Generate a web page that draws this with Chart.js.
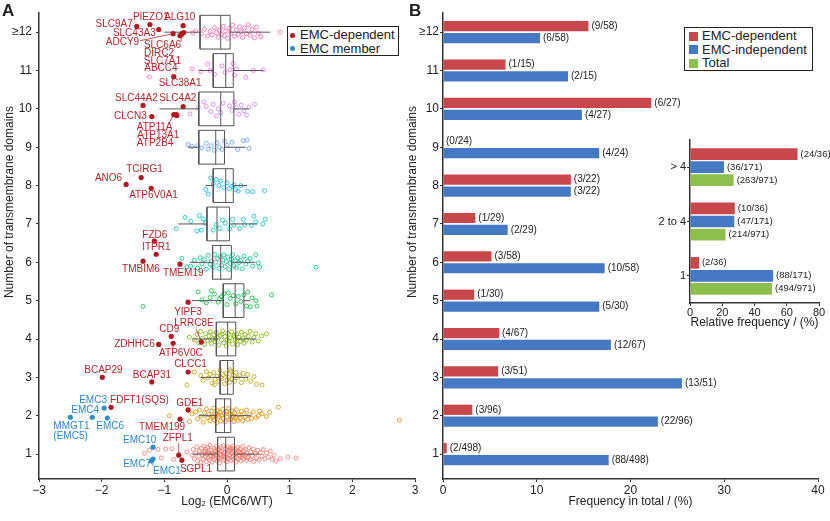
<!DOCTYPE html>
<html>
<head>
<meta charset="utf-8">
<script src="https://cdn.jsdelivr.net/npm/chart.js@4.4.0/dist/chart.umd.min.js"></script>
<style>
	body { margin: 0; background: #fff; font-family: "Liberation Sans", Arial, sans-serif; color: #222; }
	#wrap { position: relative; width: 830px; height: 521px; overflow: hidden; }
	canvas { position: absolute; }
	.panel { position: absolute; font-weight: bold; font-size: 17px; line-height: 17px; }
	.ytitle { position: absolute; width: 260px; height: 14px; line-height: 14px; font-size: 12px; text-align: center; white-space: nowrap; transform: rotate(-90deg); }
	.legend { position: absolute; border: 1.5px solid #222; box-sizing: border-box; background: #fff; font-size: 13px; }
	.legend .li { height: 13.5px; line-height: 13.5px; white-space: nowrap; }
	.legend .dot { display: inline-block; width: 5px; height: 5px; border-radius: 50%; margin: 0 5px 1px 2px; vertical-align: middle; }
	.legend .sq { display: inline-block; width: 9px; height: 9px; margin: 0 4px 1px 4px; vertical-align: middle; }
</style>
</head>
<body>
<div id="wrap">
	<canvas id="chartA" width="420" height="521" style="left:0;top:0"></canvas>
	<canvas id="chartB" width="426" height="521" style="left:404px;top:0"></canvas>
	<canvas id="inset" width="180" height="205" style="left:650px;top:130px"></canvas>

	<div class="panel" style="left:2px;top:2px">A</div>
	<div class="panel" style="left:409px;top:2px">B</div>
	<div class="ytitle" style="left:-121px;top:195px">Number of transmembrane domains</div>
	<div class="ytitle" style="left:282px;top:195px">Number of transmembrane domains</div>

	<div class="legend" style="left:287px;top:26px;width:112px;height:30px;padding-top:1px">
		<div class="li"><span class="dot" style="background:#b3171f"></span>EMC-dependent</div>
		<div class="li"><span class="dot" style="background:#2f8fca"></span>EMC member</div>
	</div>
	<div class="legend" style="left:684px;top:27px;width:129px;height:44px;padding-top:1px">
		<div class="li"><span class="sq" style="background:#c8474a"></span>EMC-dependent</div>
		<div class="li"><span class="sq" style="background:#4679c3"></span>EMC-independent</div>
		<div class="li"><span class="sq" style="background:#8cbf4c"></span>Total</div>
	</div>
</div>
<script>
	// ---- data ----
	var tmCats = [1, 2, 3, 4, 5, 6, 7, 8, 9, 10, 11, 12];
	var tmLabels = ['1', '2', '3', '4', '5', '6', '7', '8', '9', '10', '11', '\u226512'];
	var logTicks = [-3, -2, -1, 0, 1, 2, 3];
	var logTickLabels = ['\u22123', '\u22122', '\u22121', '0', '1', '2', '3'];

	// box plot stats per TM class (log2 EMC6/WT)
	var whiskLo = [-0.55, -0.45, -0.42, -0.55, -0.56, -0.59, -0.78, -0.34, -0.62, -1.08, -0.45, -1.0];
	var boxQ1   = [-0.15, -0.18, -0.11, -0.17, -0.06, -0.23, -0.32, -0.22, -0.45, -0.45, -0.22, -0.43];
	var boxMed  = [-0.02, -0.04, 0.01, 0.01, 0.13, -0.10, -0.16, -0.02, -0.18, -0.10, -0.02, -0.10];
	var boxQ3   = [0.12, 0.06, 0.10, 0.14, 0.27, 0.07, 0.04, 0.10, -0.04, 0.11, 0.10, 0.05];
	var whiskHi = [0.52, 0.38, 0.34, 0.46, 0.37, 0.45, 0.48, 0.32, 0.30, 0.35, 0.58, 0.69];

	// jittered proteins, [log2 ratio, jittered TM position]
	var tm1 = [[-1.32,1.02],[-1.24,1.1],[-1.1,1.12],[-0.98,1.13],[-0.88,1.14],[-1.05,0.9],[-0.85,0.86],[-0.64,1.06],
		[-0.56,0.97],[-0.54,1.12],[-0.52,0.88],[-0.5,1.03],[-0.48,1.19],[-0.47,0.82],[-0.45,0.95],[-0.44,1.08],
		[-0.42,0.78],[-0.41,1.15],[-0.4,0.99],[-0.38,0.87],[-0.37,1.21],[-0.36,1.04],[-0.35,0.92],[-0.34,1.12],
		[-0.33,0.8],[-0.32,1.0],[-0.31,1.17],[-0.3,0.9],[-0.29,1.06],[-0.28,0.84],[-0.27,1.23],[-0.26,0.96],
		[-0.25,1.1],[-0.24,0.79],[-0.23,1.02],[-0.22,0.93],[-0.21,1.15],[-0.2,0.86],[-0.19,1.08],[-0.18,0.98],
		[-0.17,1.2],[-0.16,0.82],[-0.15,1.04],[-0.14,0.91],[-0.13,1.13],[-0.12,0.77],[-0.11,1.0],[-0.1,1.18],
		[-0.09,0.89],[-0.08,1.07],[-0.07,0.95],[-0.06,1.22],[-0.05,0.84],[-0.04,1.03],[-0.03,0.92],[-0.02,1.14],
		[-0.01,0.8],[0.0,1.01],[0.01,1.19],[0.02,0.88],[0.03,1.06],[0.04,0.97],[0.05,1.16],[0.06,0.83],
		[0.07,1.04],[0.08,0.93],[0.09,1.21],[0.1,0.86],[0.11,1.09],[0.12,0.98],[0.13,1.13],[0.14,0.79],
		[0.15,1.02],[0.16,0.91],[0.17,1.18],[0.18,0.87],[0.19,1.07],[0.2,0.96],[0.21,1.14],[0.22,0.82],
		[0.23,1.03],[0.24,0.92],[0.25,1.2],[0.26,0.88],[0.27,1.08],[0.28,0.97],[0.3,1.12],[0.31,0.84],
		[0.32,1.01],[0.34,0.93],[0.35,1.17],[0.37,0.86],[0.38,1.05],[0.4,0.95],[0.42,1.13],[0.43,0.81],
		[0.45,1.02],[0.47,0.9],[0.49,1.1],[0.51,0.85],[0.53,1.04],[0.56,0.94],[0.58,1.12],[0.6,0.88],
		[0.63,1.03],[0.66,0.92],[0.69,1.08],[0.72,0.86],[0.75,0.97],[0.78,0.82],[0.85,0.88],[0.97,0.92],[1.1,0.9],
		[-0.2,1.0],[-0.1,0.97],[0.05,1.09],[0.0,0.9],[-0.15,1.12],[0.1,0.95],[-0.05,1.05],[0.15,1.0],
		[-0.25,0.95],[0.2,1.05],[-0.3,1.02],[0.25,0.98],[-0.12,0.9],[0.08,1.15],[-0.35,1.08],[0.33,0.9]];
	var tm2 = [[-0.92,2.0],[-0.6,1.85],[-0.56,2.05],[-0.5,2.1],[-0.47,1.92],[-0.44,2.15],[-0.41,1.98],[-0.38,1.83],
		[-0.36,2.08],[-0.33,2.18],[-0.31,1.95],[-0.29,2.03],[-0.27,1.87],[-0.25,2.12],[-0.23,1.99],[-0.21,2.2],
		[-0.2,1.9],[-0.18,2.05],[-0.16,1.82],[-0.15,2.14],[-0.13,1.97],[-0.12,2.09],[-0.1,1.86],[-0.09,2.01],
		[-0.07,2.17],[-0.06,1.93],[-0.04,2.06],[-0.03,1.84],[-0.01,2.11],[0.0,1.96],[0.02,2.19],[0.03,1.89],
		[0.05,2.04],[0.06,1.92],[0.08,2.13],[0.09,2.0],[0.11,1.85],[0.12,2.08],[0.14,1.95],[0.15,2.16],
		[0.17,1.88],[0.19,2.02],[0.21,1.94],[0.23,2.12],[0.25,1.87],[0.27,2.05],[0.29,1.97],[0.31,2.15],
		[0.33,1.9],[0.36,2.03],[0.39,1.93],[0.42,2.1],[0.46,1.95],[0.5,2.0],[0.52,2.12],[0.56,2.05],
		[0.63,1.98],[0.68,2.09],[0.82,2.22],[2.75,1.88],[-0.14,2.02],[0.0,2.1],[-0.22,1.96],[0.1,1.97]];
	var tm3 = [[-0.64,2.8],[-0.52,3.14],[-0.42,3.05],[-0.38,2.92],[-0.33,3.15],[-0.3,2.98],[-0.27,3.08],[-0.24,2.85],
		[-0.21,3.12],[-0.19,2.95],[-0.16,3.03],[-0.13,2.88],[-0.11,3.18],[-0.08,2.97],[-0.06,3.07],[-0.04,2.83],
		[-0.02,3.1],[0.0,2.93],[0.02,3.01],[0.04,2.87],[0.06,3.16],[0.08,2.96],[0.1,3.06],[0.12,2.9],
		[0.14,3.13],[0.17,2.99],[0.2,3.04],[0.23,2.86],[0.26,3.1],[0.3,2.95],[0.33,3.08],[0.38,2.9],
		[0.43,3.02],[0.47,2.82],[0.56,2.8],[-0.1,3.0],[0.05,3.2],[-0.2,2.81]];
	var tm4 = [[-0.6,4.05],[-0.52,3.98],[-0.48,4.12],[-0.45,3.9],[-0.42,4.2],[-0.39,4.02],[-0.36,3.86],[-0.34,4.14],
		[-0.31,3.96],[-0.29,4.08],[-0.27,4.19],[-0.25,3.88],[-0.23,4.0],[-0.21,4.11],[-0.19,3.93],[-0.17,4.17],
		[-0.15,4.04],[-0.13,3.84],[-0.11,4.09],[-0.09,3.97],[-0.07,4.21],[-0.05,3.9],[-0.03,4.06],[-0.01,3.82],
		[0.01,4.15],[0.03,3.95],[0.05,4.03],[0.07,4.19],[0.09,3.87],[0.11,4.1],[0.13,3.99],[0.15,4.13],
		[0.17,3.85],[0.19,4.05],[0.21,3.94],[0.23,4.18],[0.25,4.01],[0.27,3.89],[0.29,4.12],[0.31,3.97],
		[0.34,4.07],[0.37,4.2],[0.4,3.92],[0.43,4.04],[0.46,4.14],[0.5,3.95],[0.55,4.08],[0.63,4.13],
		[-0.18,4.0],[0.0,3.98],[0.12,4.06],[-0.08,4.13]];
	var tm5 = [[-1.34,4.85],[-0.46,5.23],[-0.4,5.02],[-0.33,4.94],[-0.27,5.08],[-0.25,5.26],[-0.2,5.17],[-0.14,4.96],
		[-0.09,5.1],[-0.05,5.18],[0.0,4.9],[0.02,5.2],[0.05,5.06],[0.1,5.13],[0.14,4.92],[0.18,5.11],
		[0.22,4.98],[0.27,5.15],[0.31,4.86],[0.33,5.22],[0.37,4.84],[0.4,5.07],[0.46,5.0],[0.48,4.86],
		[0.71,5.15],[-0.12,5.05]];
	var tm6 = [[-0.72,6.1],[-0.64,5.88],[-0.58,5.9],[-0.52,6.05],[-0.47,5.85],[-0.43,6.12],[-0.4,5.96],[-0.36,6.07],
		[-0.33,5.82],[-0.3,6.18],[-0.27,5.95],[-0.25,6.04],[-0.22,5.87],[-0.2,6.2],[-0.18,6.0],[-0.15,6.1],
		[-0.13,5.84],[-0.11,6.15],[-0.09,5.93],[-0.07,6.06],[-0.05,6.19],[-0.03,5.89],[-0.01,6.02],[0.01,6.14],
		[0.03,5.81],[0.05,5.97],[0.07,6.08],[0.09,6.2],[0.11,5.91],[0.13,6.04],[0.15,5.86],[0.17,6.12],
		[0.19,5.99],[0.22,6.05],[0.24,5.83],[0.27,6.16],[0.3,5.95],[0.33,6.03],[0.37,6.1],[0.41,5.9],
		[0.46,6.2],[0.5,5.98],[0.52,5.88],[1.42,5.87]];
	var tm7 = [[-0.81,6.88],[-0.67,7.17],[-0.58,7.07],[-0.44,7.22],[-0.38,7.13],[-0.35,7.02],[-0.48,6.82],[-0.41,6.84],
		[-0.22,6.84],[-0.17,6.98],[-0.12,6.88],[-0.07,7.1],[-0.03,7.02],[0.09,7.12],[0.11,6.97],[0.26,7.12],
		[0.28,6.98],[0.39,6.96],[0.43,7.2],[0.46,7.05],[0.57,7.0],[0.61,7.12],[0.2,6.88],[0.04,6.87]];
	var tm8 = [[-0.34,7.9],[-0.3,7.78],[-0.26,8.2],[-0.22,8.05],[-0.17,8.16],[-0.13,8.0],[-0.1,8.12],[-0.05,7.95],
		[0.0,8.07],[0.04,7.92],[0.08,7.98],[0.11,8.02],[0.14,7.9],[0.18,7.86],[0.22,8.0],[0.33,7.85],
		[0.41,7.84],[0.6,7.87]];
	var tm9 = [[-0.62,9.07],[-0.56,9.02],[-0.47,9.04],[-0.4,8.98],[-0.33,9.1],[-0.3,8.95],[-0.25,9.04],[-0.2,8.92],
		[-0.16,9.12],[-0.12,9.0],[-0.08,8.94],[-0.04,9.16],[0.0,9.05],[0.08,9.13],[0.17,8.94],[0.26,9.17],
		[0.32,9.19],[0.35,8.97]];
	var tm10 = [[-0.59,9.87],[-0.46,10.04],[-0.37,10.18],[-0.33,10.06],[-0.26,9.93],[-0.22,10.12],[-0.17,9.82],[-0.14,10.0],
		[-0.1,9.9],[-0.06,10.15],[0.04,10.08],[0.08,9.96],[0.12,10.18],[0.15,10.03],[0.19,9.86],[0.23,10.1],
		[0.27,9.95],[0.31,9.84],[0.35,10.05],[0.44,10.12]];
	var tm11 = [[-1.24,10.83],[-0.56,11.05],[-0.42,10.97],[-0.31,11.17],[-0.27,11.0],[-0.2,10.9],[-0.08,11.12],[-0.03,10.95],
		[0.05,11.02],[0.1,11.18],[0.12,10.88],[0.15,11.04],[0.3,10.82],[0.42,11.0],[0.58,11.02]];
	var tm12 = [[-0.55,11.98],[-0.5,12.03],[-0.41,11.96],[-0.36,12.08],[-0.31,11.9],[-0.27,12.02],[-0.24,11.93],[-0.2,12.12],
		[-0.17,11.99],[-0.14,11.87],[-0.12,12.05],[-0.09,11.95],[-0.06,12.15],[-0.04,11.91],[-0.02,12.03],[0.01,11.84],
		[0.04,12.1],[0.06,11.97],[0.09,12.18],[0.12,11.89],[0.15,12.06],[0.18,11.94],[0.2,12.14],[0.23,12.01],
		[0.25,11.86],[0.28,12.11],[0.31,11.96],[0.34,12.19],[0.37,11.92],[0.4,12.07],[0.44,11.85],[0.47,12.13],
		[0.5,11.98],[0.54,11.88],[0.85,12.0]];
	var tmPoints = [tm1, tm2, tm3, tm4, tm5, tm6, tm7, tm8, tm9, tm10, tm11, tm12];

	// named proteins
	var depNames = ['SLC9A7','PIEZO1','ALG10','SLC43A3','ADCY9','SLC6A6','DIRC2','SLC7A1','ABCC4','SLC38A1',
		'SLC44A2','SLC4A2','CLCN3','ATP11A','ATP13A1','ATP2B4','TCIRG1','ANO6','ATP6V0A1','FZD6',
		'ITPR1','TMBIM6','TMEM19','YIPF3','LRRC8E','CD9','ZDHHC6','ATP6V0C','BCAP29','BCAP31',
		'CLCC1','FDFT1(SQS)','GDE1','TMEM199','ZFPL1','SGPL1'];
	var depX = [-1.44,-1.23,-0.70,-1.09,-0.86,-0.72,-0.75,-0.69,-0.73,-0.85,
		-1.34,-0.70,-1.20,-0.85,-0.81,-0.80,-1.37,-1.61,-1.21,-1.16,
		-1.13,-1.34,-0.75,-0.62,-0.41,-0.89,-1.09,-0.86,-1.99,-1.20,
		-0.62,-1.85,-0.62,-0.75,-0.77,-0.72];
	var depY = [12.15,12.2,12.17,12.07,11.96,11.96,11.91,11.99,11.94,10.84,
		10.09,10.06,9.80,9.85,9.85,9.83,8.21,8.03,7.93,6.55,
		6.21,6.03,5.95,4.96,3.92,4.07,3.86,3.89,3.0,2.88,
		3.14,2.22,2.15,1.91,0.97,0.84];
	var emcNames = ['EMC3','EMC4','MMGT1\n(EMC5)','EMC6','EMC10','EMC7','EMC1'];
	var emcX = [-1.96,-2.15,-2.5,-1.91,-1.18,-1.21,-1.18];
	var emcY = [2.2,1.96,1.96,1.94,1.18,0.82,0.87];

	// panel B counts
	var depCount   = [2, 3, 3, 4, 1, 3, 1, 3, 0, 6, 1, 9];
	var indepCount = [88, 22, 13, 12, 5, 10, 2, 3, 4, 4, 2, 6];
	var tmTotal    = [498, 96, 51, 67, 30, 58, 29, 22, 24, 27, 15, 58];
	var freqTicks = [0, 10, 20, 30, 40];

	// inset
	var groupLabels = ['> 4', '2 to 4', '1'];
	var grpDep = [24, 10, 2];
	var grpIndep = [36, 47, 88];
	var grpTotal = [263, 214, 494];
	var nDep = 36, nIndep = 171, nTotal = 971;
	var relTicks = [0, 20, 40, 60, 80];

	// ---- layout / style ----
	var FONT = '"Liberation Sans", Arial, sans-serif';
	var hue = ['#F8766D','#DE8C00','#B79F00','#7CAE00','#00BA38','#00C08B','#00BFC4','#00B4F0','#619CFF','#C77CFF','#F564E3','#FF64B0'];
	var BOX_HALF = 0.44;
	var RED = '#c8474a', BLUE = '#4679c3', GREEN = '#8cbf4c';

	// label placement: [dx, dy, align, leaderDx, leaderDy] in pixels from the dot
	var depLayout = {
		'SLC9A7': [-4,-2,'right'], 'PIEZO1': [-17,-7,'left'], 'ALG10': [-19,-8,'left'],
		'SLC43A3': [-3,4,'right'], 'ADCY9': [-34,9,'right',-33,7], 'SLC6A6': [-38,12,'left',-1,8],
		'DIRC2': [-36,18,'left'], 'SLC7A1': [-40,29,'left'], 'ABCC4': [-37,34,'left'],
		'SLC38A1': [-15,7,'left'], 'SLC44A2': [-28,-7,'left'], 'SLC4A2': [-24,-8,'left'],
		'CLCN3': [-5,0,'right'], 'ATP11A': [-37,13,'left',-5,9], 'ATP13A1': [-39,21,'left'],
		'ATP2B4': [-40,28,'left'], 'TCIRG1': [-15,-8,'left'], 'ANO6': [-4,-6,'right'],
		'ATP6V0A1': [-22,7,'left'], 'FZD6': [-12,-6,'left'], 'ITPR1': [-14,-7,'left'],
		'TMBIM6': [-21,8,'left'], 'TMEM19': [-17,9,'left'], 'YIPF3': [-14,10,'left'],
		'LRRC8E': [-27,-19,'left',-5,-13], 'CD9': [-12,-7,'left'], 'ZDHHC6': [-4,0,'right'],
		'ATP6V0C': [-14,10,'left',0,5], 'BCAP29': [-18,-7,'left'], 'BCAP31': [-19,-7,'left'],
		'CLCC1': [-14,-8,'left'], 'FDFT1(SQS)': [-1,-7,'left'], 'GDE1': [-12,-7,'left'],
		'TMEM199': [-41,8,'left'], 'ZFPL1': [-16,-17,'left',0,-12], 'SGPL1': [-2,9,'left']
	};
	var emcLayout = {
		'EMC3': [-25,-8,'left'], 'EMC4': [-21,-7,'left'], 'MMGT1\n(EMC5)': [-17,9,'left'],
		'EMC6': [-11,8,'left'], 'EMC10': [-30,-7,'left'], 'EMC7': [-28,3,'left',-3,2],
		'EMC1': [0,12,'left',0,7]
	};

	Chart.defaults.font.family = FONT;
	Chart.defaults.color = '#222';

	var geneLabels = {
		id: 'geneLabels',
		afterDatasetsDraw: function(chart) {
			var ctx = chart.ctx;
			chart.data.datasets.forEach(function(ds, di) {
				if (!ds.names) return;
				var meta = chart.getDatasetMeta(di);
				ctx.save();
				ctx.font = '10px ' + FONT;
				ctx.fillStyle = ds.textColor;
				ctx.strokeStyle = ds.textColor;
				ctx.lineWidth = 0.8;
				ctx.textBaseline = 'middle';
				meta.data.forEach(function(pt, i) {
					var lay = ds.layout[ds.names[i]];
					ctx.textAlign = lay[2];
					var lines = ds.names[i].split('\n');
					lines.forEach(function(t, k) {
						ctx.fillText(t, pt.x + lay[0], pt.y + lay[1] + k * 10);
					});
					if (lay.length > 3) {
						ctx.beginPath();
						ctx.moveTo(pt.x + lay[3], pt.y + lay[4]);
						ctx.lineTo(pt.x, pt.y);
						ctx.stroke();
					}
				});
				ctx.restore();
			});
		}
	};

	var fracLabels = {
		id: 'fracLabels',
		afterDatasetsDraw: function(chart, args, opts) {
			var ctx = chart.ctx;
			ctx.save();
			ctx.font = (opts.size || 10) + 'px ' + FONT;
			ctx.fillStyle = '#222';
			ctx.textBaseline = 'middle';
			ctx.textAlign = 'left';
			chart.data.datasets.forEach(function(ds, di) {
				var meta = chart.getDatasetMeta(di);
				meta.data.forEach(function(bar, i) {
					ctx.fillText(ds.fracs[i], bar.x + 3, bar.y);
				});
			});
			ctx.restore();
		}
	};

	function axisStyle(extra) {
		var o = {
			grid: { display: true, drawOnChartArea: false, drawTicks: true, tickLength: 3, color: '#333', offset: false },
			border: { display: true, color: '#333', width: 1.5 },
			ticks: { color: '#222', font: { size: 12 }, autoSkip: false, maxRotation: 0, padding: 1 }
		};
		return Object.assign(o, extra);
	}

	function boxData() {
		var pts = [];
		tmCats.forEach(function(c, i) {
			var a = c - BOX_HALF, b = c + BOX_HALF;
			pts.push({x: boxQ1[i], y: a}, {x: boxQ3[i], y: a}, {x: boxQ3[i], y: b}, {x: boxQ1[i], y: b}, {x: boxQ1[i], y: a}, {x: null, y: null});
			pts.push({x: boxMed[i], y: a}, {x: boxMed[i], y: b}, {x: null, y: null});
			pts.push({x: whiskLo[i], y: c}, {x: boxQ1[i], y: c}, {x: null, y: null});
			pts.push({x: boxQ3[i], y: c}, {x: whiskHi[i], y: c}, {x: null, y: null});
		});
		return pts;
	}

	function init() {
		// ---- panel A ----
		var dsA = [
			{
				data: depX.map(function(x, i) { return {x: x, y: depY[i]}; }),
				names: depNames, layout: depLayout, textColor: '#b0262b',
				pointRadius: 2.6, pointBackgroundColor: '#b3171f', pointBorderWidth: 0
			},
			{
				data: emcX.map(function(x, i) { return {x: x, y: emcY[i]}; }),
				names: emcNames, layout: emcLayout, textColor: '#2a8ac8',
				pointRadius: 2.6, pointBackgroundColor: '#2f8fca', pointBorderWidth: 0
			},
			{
				data: boxData(), showLine: true, spanGaps: false,
				borderColor: '#555', borderWidth: 1, pointRadius: 0
			}
		];
		tmPoints.forEach(function(pts, i) {
			dsA.push({
				data: pts.map(function(p) { return {x: p[0], y: p[1]}; }),
				pointRadius: 2, pointBorderWidth: 0.8,
				pointBorderColor: hue[i], pointBackgroundColor: 'rgba(0,0,0,0)'
			});
		});

		new Chart(document.getElementById('chartA').getContext('2d'), {
			type: 'scatter',
			data: { datasets: dsA },
			options: {
				responsive: false, animation: false,
				layout: { padding: { top: 13, right: 5, left: 0, bottom: 0 } },
				plugins: { legend: { display: false }, tooltip: { enabled: false } },
				scales: {
					x: axisStyle({
						type: 'linear', min: -3, max: 3,
						afterBuildTicks: function(s) { s.ticks = logTicks.map(function(v) { return {value: v}; }); },
						afterFit: function(s) { s.height = 42; },
						ticks: { color: '#222', font: { size: 12 }, autoSkip: false, maxRotation: 0, padding: 1,
							callback: function(v, i) { return logTickLabels[i]; } },
						title: { display: true, text: 'Log\u2082 (EMC6/WT)', font: { size: 12 }, color: '#222', padding: { top: 0, bottom: 12 } }
					}),
					y: axisStyle({
						type: 'linear', min: 0.35, max: 12.5,
						afterBuildTicks: function(s) { s.ticks = tmCats.map(function(v) { return {value: v}; }); },
						afterFit: function(s) { s.width = 39; },
						ticks: { color: '#222', font: { size: 12 }, autoSkip: false, padding: 4,
							callback: function(v, i) { return tmLabels[i]; } }
					})
				}
			},
			plugins: [geneLabels]
		});

		// ---- panel B ----
		new Chart(document.getElementById('chartB').getContext('2d'), {
			type: 'bar',
			data: {
				datasets: [
					{
						label: 'EMC-dependent', backgroundColor: RED,
						data: tmCats.map(function(c, i) { return {x: depCount[i] / tmTotal[i] * 100, y: c}; }),
						fracs: tmCats.map(function(c, i) { return '(' + depCount[i] + '/' + tmTotal[i] + ')'; })
					},
					{
						label: 'EMC-independent', backgroundColor: BLUE,
						data: tmCats.map(function(c, i) { return {x: indepCount[i] / tmTotal[i] * 100, y: c}; }),
						fracs: tmCats.map(function(c, i) { return '(' + indepCount[i] + '/' + tmTotal[i] + ')'; })
					}
				]
			},
			options: {
				indexAxis: 'y', responsive: false, animation: false,
				categoryPercentage: 0.62, barPercentage: 0.86,
				layout: { padding: { top: 13, right: 12, left: 0, bottom: 0 } },
				plugins: { legend: { display: false }, tooltip: { enabled: false }, fracLabels: { size: 10 } },
				scales: {
					x: axisStyle({
						type: 'linear', min: 0, max: 40,
						afterBuildTicks: function(s) { s.ticks = freqTicks.map(function(v) { return {value: v}; }); },
						afterFit: function(s) { s.height = 42; },
						title: { display: true, text: 'Frequency in total / (%)', font: { size: 12 }, color: '#222', padding: { top: 0, bottom: 12 } }
					}),
					y: axisStyle({
						type: 'linear', min: 0.35, max: 12.5, offset: false,
						afterBuildTicks: function(s) { s.ticks = tmCats.map(function(v) { return {value: v}; }); },
						afterFit: function(s) { s.width = 39; },
						ticks: { color: '#222', font: { size: 12 }, autoSkip: false, padding: 1,
							callback: function(v, i) { return tmLabels[i]; } }
					})
				}
			},
			plugins: [fracLabels]
		});

		// ---- inset ----
		new Chart(document.getElementById('inset').getContext('2d'), {
			type: 'bar',
			data: {
				labels: groupLabels,
				datasets: [
					{
						backgroundColor: RED,
						data: grpDep.map(function(v) { return v / nDep * 100; }),
						fracs: grpDep.map(function(v) { return '(' + v + '/' + nDep + ')'; })
					},
					{
						backgroundColor: BLUE,
						data: grpIndep.map(function(v) { return v / nIndep * 100; }),
						fracs: grpIndep.map(function(v) { return '(' + v + '/' + nIndep + ')'; })
					},
					{
						backgroundColor: GREEN,
						data: grpTotal.map(function(v) { return v / nTotal * 100; }),
						fracs: grpTotal.map(function(v) { return '(' + v + '/' + nTotal + ')'; })
					}
				]
			},
			options: {
				indexAxis: 'y', responsive: false, animation: false,
				categoryPercentage: 0.72, barPercentage: 0.9,
				layout: { padding: { top: 10, right: 11, left: 0, bottom: 0 } },
				plugins: { legend: { display: false }, tooltip: { enabled: false }, fracLabels: { size: 9.5 } },
				scales: {
					x: axisStyle({
						type: 'linear', min: 0, max: 80,
						afterBuildTicks: function(s) { s.ticks = relTicks.map(function(v) { return {value: v}; }); },
						afterFit: function(s) { s.height = 32; },
						ticks: { color: '#222', font: { size: 11 }, autoSkip: false, maxRotation: 0, padding: 0 },
						title: { display: true, text: 'Relative frequency / (%)', font: { size: 12 }, color: '#222', padding: { top: 0, bottom: 5 } }
					}),
					y: axisStyle({
						type: 'category',
						afterFit: function(s) { s.width = 40; },
						ticks: { color: '#222', font: { size: 11 }, autoSkip: false, padding: 1 }
					})
				}
			},
			plugins: [fracLabels]
		});
	}

	init();
</script>
</body>
</html>
